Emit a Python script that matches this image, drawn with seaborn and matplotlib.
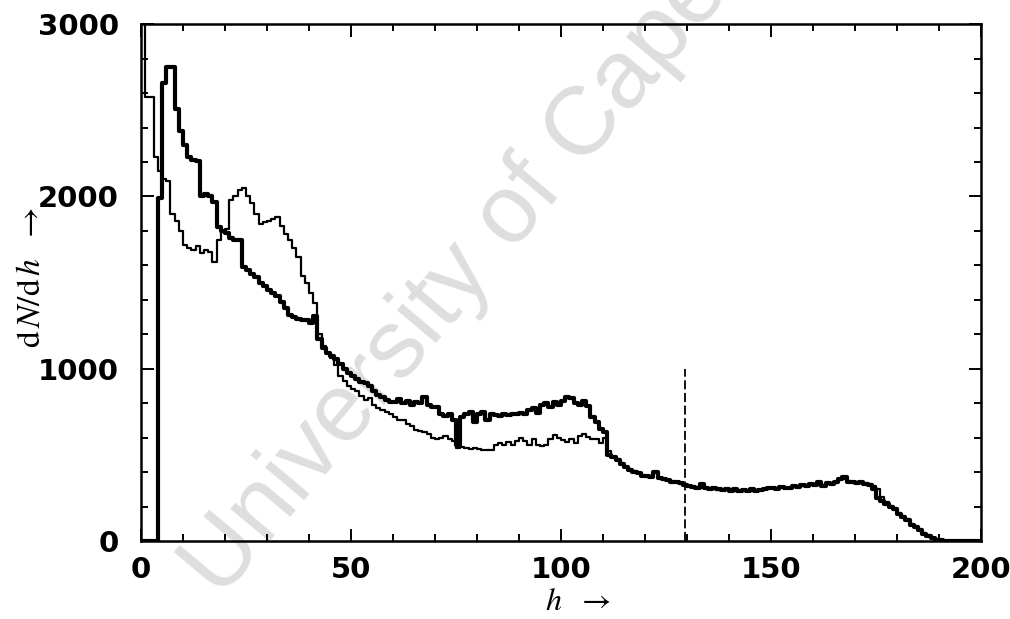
import numpy as np
import pandas as pd
import matplotlib
matplotlib.use("Agg")
import matplotlib.pyplot as plt
import seaborn as sns

# dN/dh per unit bin of h, starting at h = 0
thick_counts = [
    0, 0, 0, 0, 1990, 2660, 2750, 2750, 2510, 2380,
    2300, 2230, 2210, 2205, 2000, 2015, 2000, 1970, 1820, 1800,
    1790, 1760, 1750, 1745, 1590, 1575, 1550, 1530, 1500, 1480,
    1455, 1440, 1420, 1390, 1350, 1310, 1300, 1290, 1285, 1280,
    1265, 1305, 1170, 1120, 1090, 1075, 1055, 1030, 1000, 975,
    960, 940, 925, 915, 900, 870, 850, 835, 820, 805,
    805, 825, 800, 810, 790, 805, 800, 835, 790, 775,
    780, 740, 725, 735, 700, 560, 720, 735, 750, 690,
    740, 750, 700, 735, 730, 725, 735, 730, 740, 735,
    745, 740, 760, 770, 745, 790, 800, 780, 805, 790,
    810, 837, 830, 800, 790, 810, 785, 720, 690, 650,
    630, 500, 485, 470, 445, 430, 415, 400, 395, 380,
    375, 370, 400, 365, 360, 355, 345, 340, 335, 325,
    320, 315, 310, 330, 305, 300, 310, 300, 295, 300,
    290, 300, 288, 295, 290, 300, 292, 295, 300, 310,
    305, 300, 315, 310, 305, 320, 315, 325, 320, 330,
    325, 340, 320, 335, 330, 340, 360, 370, 345, 340,
    335, 340, 330, 325, 300, 250, 235, 215, 200, 185,
    155, 140, 120, 95, 80, 65, 40, 30, 18, 8,
    3, 0,
]

thin_counts = [
    3300, 2580, 2580, 2230, 2150, 2100, 2090, 1900, 1860, 1800,
    1720, 1700, 1690, 1715, 1670, 1690, 1680, 1620, 1750, 1800,
    1810, 1980, 2000, 2040, 2050, 2000, 1960, 1900, 1840, 1850,
    1860, 1870, 1880, 1830, 1780, 1750, 1700, 1650, 1540, 1500,
    1440, 1380, 1200, 1130, 1090, 1060, 1020, 960, 930, 900,
    880, 870, 840, 820, 830, 790, 770, 760, 750, 740,
    720, 700, 700, 680, 670, 645, 640, 630, 620, 600,
    590, 600, 610, 590, 580, 540, 545, 540, 535, 540,
    535, 530, 528, 530, 560, 570, 560, 575, 560, 580,
    595, 580, 560, 590, 560, 550, 555, 590, 615, 600,
    585, 575, 590, 570, 610, 620, 605, 590, 590, 570,
    600, 520, 490, 475, 450, 430, 420, 405, 395, 385,
    375, 372, 395, 368, 360, 352, 348, 340, 332, 328,
    322, 318, 312, 325, 308, 302, 306, 298, 296, 298,
    292, 296, 290, 293, 292, 298, 295, 296, 302, 308,
    306, 302, 312, 308, 308, 318, 316, 322, 322, 328,
    328, 336, 324, 332, 334, 338, 352, 362, 350, 345,
    340, 338, 335, 330, 322, 300, 255, 225, 205, 190,
    160, 145, 125, 100, 85, 68, 45, 32, 20, 10,
    4, 0,
]

h_cut = 129.5          # position of the dashed marker
h_cut_height = 1000    # top of the dashed marker

x_ticks = [0, 50, 100, 150, 200]
y_ticks = [0, 1000, 2000, 3000]

sns.set_theme(style="ticks")
plt.rcParams["font.family"] = ["DejaVu Sans"]
plt.rcParams["mathtext.fontset"] = "stix"

fig = plt.figure(figsize=(10.10, 6.19), dpi=100)
ax = fig.add_axes([0.1396, 0.126, 0.8317, 0.835])

# faint diagonal watermark behind the data
fig.text(0.218, 0.030, "University of Cape Town", rotation=50,
         rotation_mode="anchor", ha="left", va="baseline",
         fontsize=70, color="#dedede", family="Liberation Sans", zorder=-1)
ax.set_facecolor("none")


def as_frame(counts):
    centers = np.arange(len(counts)) + 0.5
    return pd.DataFrame({"h": centers, "w": counts})


sns.histplot(data=as_frame(thin_counts), x="h", weights="w",
             binwidth=1, binrange=(0, 200), element="step", fill=False,
             color="black", linewidth=1.6, ax=ax)
sns.histplot(data=as_frame(thick_counts), x="h", weights="w",
             binwidth=1, binrange=(0, 200), element="step", fill=False,
             color="black", linewidth=3.0, ax=ax)

ax.vlines(h_cut, 0, h_cut_height, colors="black", linestyles=(0, (5, 2)),
          linewidth=1.3)

ax.set_xlim(0, 200)
ax.set_ylim(0, 3000)
ax.set_xticks(x_ticks)
ax.set_yticks(y_ticks)
ax.set_xticks(np.arange(0, 201, 10), minor=True)
ax.set_yticks(np.arange(0, 3001, 200), minor=True)
ax.tick_params(which="both", direction="in", top=True, right=True,
               width=1.4, color="black", labelcolor="black")
ax.tick_params(which="major", length=9)
ax.tick_params(which="minor", length=5)
ax.tick_params(axis="x", which="major", pad=11, labelsize=21)
ax.tick_params(axis="y", which="major", pad=16, labelsize=21)
for lab in ax.get_xticklabels() + ax.get_yticklabels():
    lab.set_fontweight("bold")

for s in ax.spines.values():
    s.set_linewidth(1.8)
    s.set_color("black")

ax.set_xlabel(r"$h\ \ \rightarrow$", fontsize=23, color="black")
ax.set_ylabel(r"$\mathrm{d}\,N/\mathrm{d}\,h\ \ \rightarrow$", fontsize=24,
              color="black")
ax.xaxis.set_label_coords(0.52, -0.088)
ax.yaxis.set_label_coords(-0.112, 0.51)

fig.savefig("out.png", dpi=100)
